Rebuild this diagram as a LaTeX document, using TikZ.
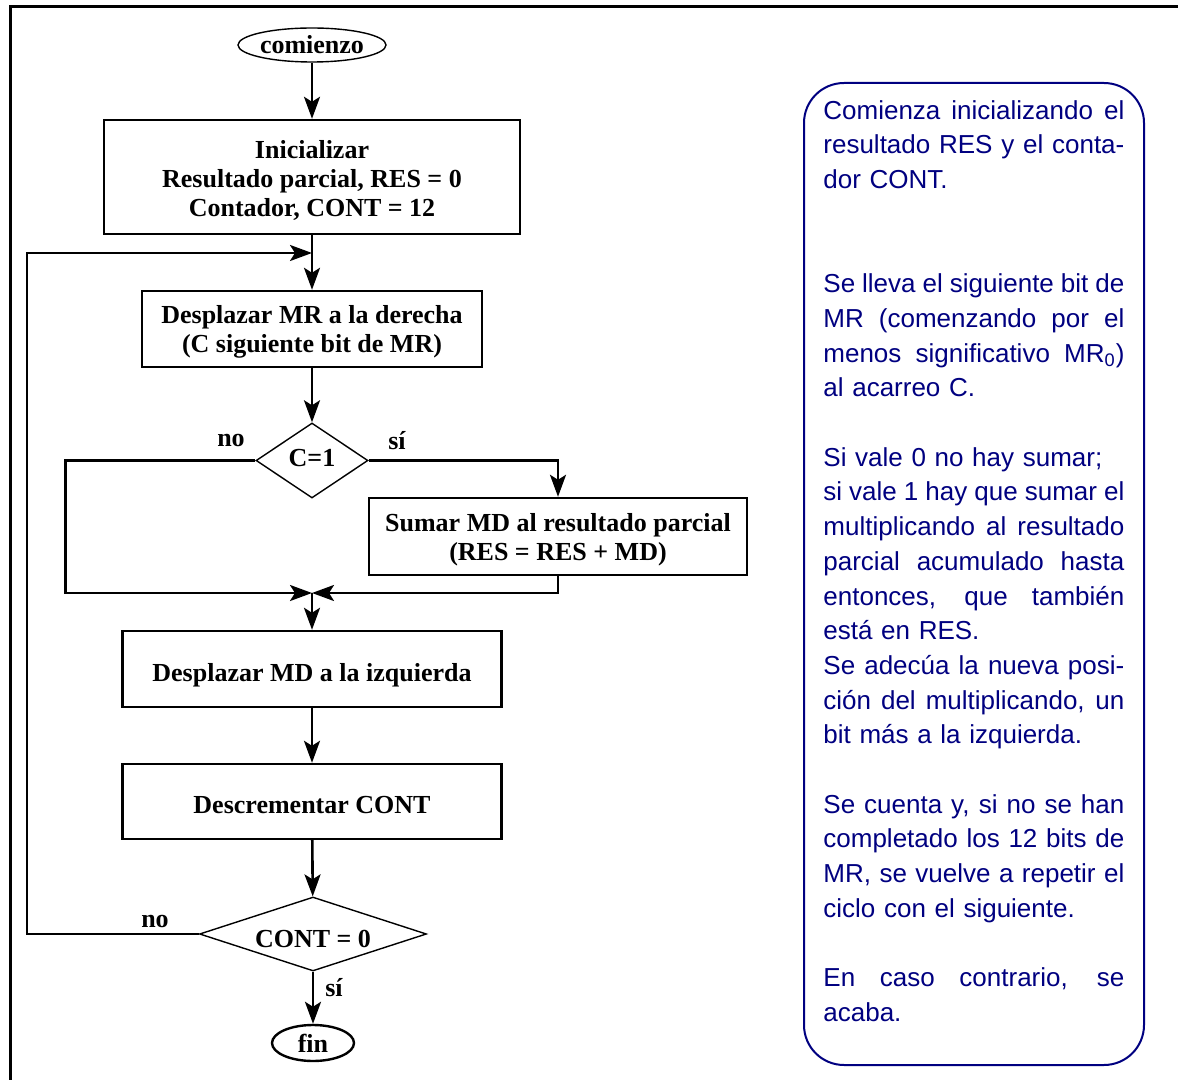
\documentclass[tikz,border=0pt]{standalone}
\usepackage{fontspec}
\setmainfont{Liberation Serif}
\newfontfamily\notafont{Liberation Sans}
\usetikzlibrary{shapes.geometric, arrows.meta, positioning}
\definecolor{notaazul}{RGB}{0, 0, 128}
% justified line of the side note
\newcommand{\just}[1]{\leavevmode\hbox to 150.5pt{\spaceskip=\fontdimen2\font plus 1fil minus 0.35\fontdimen2\font #1}}

\begin{document}
\begin{tikzpicture}[x=0.5pt, y=-0.5pt, >={Stealth[length=11pt, width=8pt, inset=2.5pt]},
    font=\bfseries\fontsize{13}{14.5}\selectfont,
    caja/.style={draw, line width=1.2pt, align=center, inner sep=0pt},
    decision/.style={diamond, draw, line width=0.7pt, inner sep=0pt, aspect=2},
    terminal/.style={ellipse, draw, inner sep=0pt},
    flujo/.style={->, line width=1.3pt},
    etiq/.style={inner sep=0pt}]
  \useasboundingbox (0,0) rectangle (1178,1080);
  % frame
  \draw[line width=1.5pt] (1178,7) -- (10,7) -- (10,1080);

  % flowchart
  \node[terminal, line width=0.7pt, minimum width=74pt, minimum height=17pt] (comienzo) at (312,45) {comienzo};
  \node[caja, minimum width=208pt, minimum height=57pt, text height=41.8pt] (ini) at (312,177) {Inicializar\\Resultado parcial, RES = 0\\Contador, CONT = 12};
  \node[caja, minimum width=170pt, minimum height=38pt, text height=26.3pt] (desMR) at (312,329) {Desplazar MR a la derecha\\(C siguiente bit de MR)};
  \node[decision, minimum width=56pt, minimum height=37.5pt, text depth=3pt] (c1) at (312,460.5) {C=1};
  \node[caja, minimum width=189pt, minimum height=38.5pt, text height=26.3pt] (sumar) at (558,536.5) {Sumar MD al resultado parcial\\(RES = RES + MD)};
  \coordinate (une) at (312,593);
  \node[caja, minimum width=189.5pt, minimum height=38pt, text height=15pt, text depth=3pt] (desMD) at (312,669) {Desplazar MD a la izquierda};
  \node[caja, minimum width=189.5pt, minimum height=37.5pt, text height=15pt, text depth=3pt] (dec) at (312,801.5) {Descrementar CONT};
  \node[decision, aspect=4, minimum width=113.5pt, minimum height=37pt, text height=13.6pt, text depth=0pt] (cont) at (313,934) {CONT = 0};
  \node[terminal, line width=1.2pt, minimum width=41pt, minimum height=18pt] (fin) at (313,1043) {fin};
  \coordinate (vuelta) at (312,253);

  \draw[flujo] (comienzo) -- (ini);
  \draw[flujo] (ini) -- (desMR);
  \draw[flujo] (desMR) -- (c1);
  \draw[flujo] (c1.east) -| (sumar.north);
  \draw[flujo] (c1.west) -- ++(-190,0) |- (une);
  \draw[flujo] (sumar.south) |- (une);
  \draw[flujo] (une) -- (desMD);
  \draw[flujo] (desMD) -- (dec);
  \draw[flujo] (dec) -- (cont);
  \draw[flujo] (cont.west) -- ++(-172,0) |- (vuelta);
  \draw[flujo] (cont) -- (fin);

  \node[etiq] (c1no) at (231,441) {no};
  \node[etiq] (c1si) at (397,441) {sí};
  \node[etiq] (contno) at (155,921) {no};
  \node[etiq] (contsi) at (334,988) {sí};

  % side note
  \draw[notaazul, line width=1pt, rounded corners=20pt] (804,83) rectangle (1144,1065);
  \node[anchor=north west, inner sep=0pt, text width=150.5pt, align=left, text=notaazul,
        font=\notafont\mdseries\fontsize{13}{17.35}\selectfont] (nota) at (823,100) {%
    \just{Comienza inicializando el}\\
    \just{resultado RES y el conta-}\\
    dor CONT.\\
    \mbox{}\\
    \mbox{}\\
    \just{Se lleva el siguiente bit de}\\
    \just{MR (comenzando por el}\\
    \just{menos significativo MR\textsubscript{0})}\\
    al acarreo C.\\
    \mbox{}\\
    Si vale 0 no hay sumar;\\
    \just{si vale 1 hay que sumar el}\\
    \just{multiplicando al resultado}\\
    \just{parcial acumulado hasta}\\
    \just{entonces, que también}\\
    está en RES.\\
    \just{Se adecúa la nueva posi-}\\
    \just{ción del multiplicando, un}\\
    bit más a la izquierda.\\
    \mbox{}\\
    \just{Se cuenta y, si no se han}\\
    \just{completado los 12 bits de}\\
    \just{MR, se vuelve a repetir el}\\
    ciclo con el siguiente.\\
    \mbox{}\\
    \just{En caso contrario, se}\\
    acaba.};
\end{tikzpicture}
\end{document}
